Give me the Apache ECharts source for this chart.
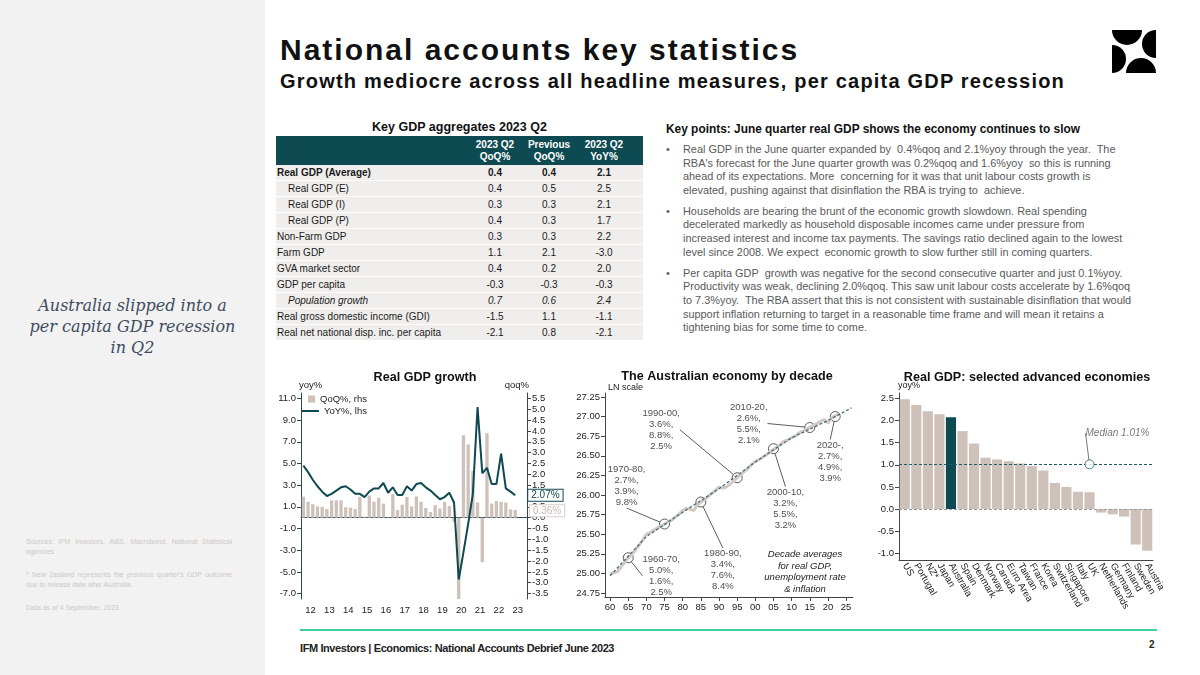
<!DOCTYPE html>
<html>
<head>
<meta charset="utf-8">
<script src="https://cdn.jsdelivr.net/npm/echarts/dist/echarts.min.js"></script>
<style>
    body { margin: 0; width: 1200px; height: 675px; position: relative; background: #fff; font-family: 'Liberation Sans', Arial, sans-serif; overflow: hidden; }
    .abs { position: absolute; }
    #side { left: 0; top: 0; width: 265px; height: 675px; background: #f2f2f2; }
    #sideText { left: 0; top: 295px; width: 265px; text-align: center; font: italic 16px 'DejaVu Serif', serif; line-height: 21px; color: #3e4c61; }
    #sources { left: 26px; top: 537px; width: 206px; font-size: 7px; line-height: 9.5px; color: #cfc8c2; }
    #sources p { margin: 0 0 14px 0; text-align: justify; }
    #title { left: 280px; top: 33px; font: bold 30px 'Liberation Sans', Arial; line-height: 34px; letter-spacing: 2px; color: #111; white-space: nowrap; }
    #subtitle { left: 280px; top: 70px; font: bold 20px 'Liberation Sans', Arial; line-height: 23px; letter-spacing: 1.2px; color: #111; white-space: nowrap; }
    #logo { left: 1112px; top: 30px; }
    #tblTitle { left: 276px; top: 120px; width: 367px; text-align: center; font-weight: bold; font-size: 12.5px; color: #111; }
    #gdpTable { left: 276px; top: 136px; width: 367px; border-collapse: collapse; font-size: 10px; color: #1a1a1a; table-layout: fixed; }
    #gdpTable th { background: #0d4a52; color: #fff; font-weight: bold; height: 29px; line-height: 11.5px; padding: 0; text-align: center; }
    #gdpTable td { background: #f0eeec; height: 15px; border-bottom: 1px solid #fff; padding: 0; text-align: center; white-space: nowrap; }
    #gdpTable td.lab { text-align: left; padding-left: 1px; }
    #gdpTable td.last, #gdpTable th.last { padding-right: 9px; }
    #gdpTable tr.bold td { font-weight: bold; }
    #gdpTable tr.ind td.lab { padding-left: 12px; }
    #gdpTable tr.ital td { font-style: italic; }
    #keyHead { left: 666px; top: 122px; font-weight: bold; font-size: 11.9px; color: #111; white-space: nowrap; }
    #keyPoints { left: 666px; top: 143px; font-size: 10.9px; line-height: 13.6px; color: #595959; white-space: nowrap; }
    #keyPoints p { margin: 0 0 7.5px 0; padding-left: 17px; position: relative; }
    #keyPoints p::before { content: '\2022'; position: absolute; left: 0; }
    #footLine { left: 300px; top: 629px; width: 857px; height: 2px; background: #3ecf9a; }
    #footText { left: 300px; top: 642px; font-weight: bold; font-size: 11px; letter-spacing: -0.4px; color: #222; white-space: nowrap; }
    #pageNo { left: 1149px; top: 639px; font-weight: bold; font-size: 10px; color: #222; }
    #charts { left: 0; top: 0; width: 1200px; height: 675px; }
</style>
</head>
<body>
<div id="side" class="abs"></div>
<div id="sideText" class="abs">Australia slipped into a<br>per capita GDP recession<br>in Q2</div>
<div id="sources" class="abs">
    <p>Sources: IFM Investors, ABS, Macrobond, National Statistical agencies</p>
    <p>* New Zealand represents the previous quarter's GDP outcome due to release date after Australia.</p>
    <p>Data as at 4 September, 2023</p>
</div>

<div id="title" class="abs">National accounts key statistics</div>
<div id="subtitle" class="abs">Growth mediocre across all headline measures, per capita GDP recession</div>
<svg id="logo" class="abs" width="44" height="43" viewBox="0 0 44 43">
    <path d="M0,0 H30 A15,15 0 0 1 0,0 Z" fill="#000"/>
    <path d="M0,15 A14,14 0 0 1 0,43 Z" fill="#000"/>
    <path d="M14,43 A15,15 0 0 1 44,43 Z" fill="#000"/>
    <path d="M44,0 V28 A14,14 0 0 1 44,0 Z" fill="#000"/>
</svg>

<div id="tblTitle" class="abs">Key GDP aggregates 2023 Q2</div>
<table id="gdpTable" class="abs">
    <colgroup><col style="width:190px"><col style="width:58px"><col style="width:50px"><col style="width:69px"></colgroup>
    <thead><tr><th></th><th>2023 Q2<br>QoQ%</th><th>Previous<br>QoQ%</th><th class="last">2023 Q2<br>YoY%</th></tr></thead>
    <tbody id="tblBody"></tbody>
</table>

<div id="keyHead" class="abs">Key points: June quarter real GDP shows the economy continues to slow</div>
<div id="keyPoints" class="abs">
    <p>Real GDP in the June quarter expanded by&nbsp; 0.4%qoq and 2.1%yoy through the year.&nbsp; The<br>RBA's forecast for the June quarter growth was 0.2%qoq and 1.6%yoy&nbsp; so this is running<br>ahead of its expectations. More&nbsp; concerning for it was that unit labour costs growth is<br>elevated, pushing against that disinflation the RBA is trying to&nbsp; achieve.</p>
    <p>Households are bearing the brunt of the economic growth slowdown. Real spending<br>decelerated markedly as household disposable incomes came under pressure from<br>increased interest and income tax payments. The savings ratio declined again to the lowest<br>level since 2008. We expect&nbsp; economic growth to slow further still in coming quarters.</p>
    <p>Per capita GDP&nbsp; growth was negative for the second consecutive quarter and just 0.1%yoy.<br>Productivity was weak, declining 2.0%qoq. This saw unit labour costs accelerate by 1.6%qoq<br>to 7.3%yoy.&nbsp; The RBA assert that this is not consistent with sustainable disinflation that would<br>support inflation returning to target in a reasonable time frame and will mean it retains a<br>tightening bias for some time to come.</p>
</div>

<div id="footLine" class="abs"></div>
<div id="footText" class="abs">IFM Investors | Economics: National Accounts Debrief June 2023</div>
<div id="pageNo" class="abs">2</div>

<div id="charts" class="abs"></div>

<script>
// table
const tableRows = [
    ['Real GDP (Average)', '0.4', '0.4', '2.1'],
    ['Real GDP (E)', '0.4', '0.5', '2.5'],
    ['Real GDP (I)', '0.3', '0.3', '2.1'],
    ['Real GDP (P)', '0.4', '0.3', '1.7'],
    ['Non-Farm GDP', '0.3', '0.3', '2.2'],
    ['Farm GDP', '1.1', '2.1', '-3.0'],
    ['GVA market sector', '0.4', '0.2', '2.0'],
    ['GDP per capita', '-0.3', '-0.3', '-0.3'],
    ['Population growth', '0.7', '0.6', '2.4'],
    ['Real gross domestic income (GDI)', '-1.5', '1.1', '-1.1'],
    ['Real net national disp. inc. per capita', '-2.1', '0.8', '-2.1']
];
const rowClass = ['bold', 'ind', 'ind', 'ind', '', '', '', '', 'ind ital', '', ''];

// real GDP growth, quarterly 2012Q1 - 2023Q2
const yearLabels = ['12', '13', '14', '15', '16', '17', '18', '19', '20', '21', '22', '23'];
const qoqGrowth = [0.97, 0.73, 0.62, 0.52, 0.5, 0.4, 0.8, 0.8, 0.8, 0.48, 0.46, 0.4,
    0.96, 0.05, 1.02, 0.74, 0.92, 0.65, 0.02, 1.1, 0.35, 0.6, 0.95, 0.52,
    0.98, 0.73, 0.45, 0.26, 0.58, 0.42, 0.73, 0.54, -0.2, -6.8, 3.8, 3.38,
    2.15, 0.7, -2.05, 3.9, 0.65, 0.76, 0.73, 0.7, 0.38, 0.36];
const yoyGrowth = [4.8, 4.2, 3.5, 2.9, 2.4, 2.0, 2.2, 2.5, 2.8, 2.9, 2.6, 2.2,
    2.2, 1.9, 2.4, 2.7, 2.7, 3.2, 2.3, 2.8, 2.1, 2.1, 2.9, 2.5,
    3.1, 3.2, 2.8, 2.5, 2.1, 1.7, 1.9, 2.3, 1.4, -5.7, -3.2, -0.6,
    2.2, 10.2, 4.1, 4.6, 3.1, 3.1, 5.9, 2.7, 2.4, 2.07];
const yoyTicks = [-7, -5, -3, -1, 1, 3, 5, 7, 9, 11];
const qoqTicks = [-3.5, -3, -2.5, -2, -1.5, -1, -0.5, 0, 0.5, 1, 1.5, 2, 2.5, 3, 3.5, 4, 4.5, 5, 5.5];

// economy by decade, ln real GDP
const gdpLn = [24.99, 25.01, 25.02, 25.08, 25.14, 25.20, 25.24, 25.30, 25.36, 25.43,
    25.50, 25.52, 25.55, 25.58, 25.60, 25.63, 25.66, 25.68, 25.72, 25.76,
    25.80, 25.83, 25.82, 25.80, 25.87, 25.91, 25.94, 25.98, 26.02, 26.06,
    26.10, 26.09, 26.10, 26.14, 26.18, 26.22, 26.26, 26.30, 26.34, 26.39,
    26.43, 26.45, 26.48, 26.51, 26.55, 26.58, 26.61, 26.65, 26.69, 26.70,
    26.73, 26.75, 26.79, 26.81, 26.84, 26.86, 26.89, 26.91, 26.94, 26.96,
    26.92, 26.98, 27.01, 27.03];
const trendYears = [1960, 1970, 1980, 1990, 2000, 2010, 2020, 2026.5];
const trendLn = [24.97, 25.47, 25.78, 26.08, 26.42, 26.73, 26.95, 27.11];
const decadeMid = [1965, 1975, 1985, 1995, 2005, 2015, 2022];
const decadeLn = [25.20, 25.63, 25.91, 26.22, 26.59, 26.86, 27.00];
const decadeText = ['1960-70,\n5.0%,\n1.6%,\n2.5%', '1970-80,\n2.7%,\n3.9%,\n9.8%', '1980-90,\n3.4%,\n7.6%,\n8.4%',
    '1990-00,\n3.6%,\n8.8%,\n2.5%', '2000-10,\n3.2%,\n5.5%,\n3.2%', '2010-20,\n2.6%,\n5.5%,\n2.1%', '2020-,\n2.7%,\n4.9%,\n3.9%'];
const lnTicks = [24.75, 25.00, 25.25, 25.50, 25.75, 26.00, 26.25, 26.50, 26.75, 27.00, 27.25];
const yearTicks = [1960, 1965, 1970, 1975, 1980, 1985, 1990, 1995, 2000, 2005, 2010, 2015, 2020, 2025];

// selected advanced economies
const countries = ['US', 'Portugal', 'NZ*', 'Japan', 'Australia', 'Spain', 'Denmark', 'Norway', 'Canada', 'Euro Area', 'Taiwan',
    'France', 'Korea', 'Switzerland', 'Singapore', 'Italy', 'UK', 'Netherlands', 'Germany', 'Finland', 'Sweden', 'Austria'];
const countryYoy = [2.48, 2.35, 2.21, 2.14, 2.07, 1.76, 1.48, 1.16, 1.12, 1.08, 1.03,
    0.97, 0.87, 0.59, 0.50, 0.39, 0.38, -0.08, -0.12, -0.17, -0.80, -0.94];
const countryTicks = [-1, -0.5, 0, 0.5, 1, 1.5, 2, 2.5];
const medianYoy = 1.01;
const medianAt = 'UK';

const body = document.getElementById('tblBody');
tableRows.forEach((r, i) => {
    const tr = document.createElement('tr');
    tr.className = rowClass[i];
    tr.innerHTML = `<td class="lab">${r[0]}</td><td>${r[1]}</td><td>${r[2]}</td><td class="last">${r[3]}</td>`;
    body.appendChild(tr);
});

const teal = '#0d4a52';
const beige = '#cdc1b9';
const ink = '#222';
const quarters = [];
yearLabels.forEach(y => ['Q1', 'Q2', 'Q3', 'Q4'].forEach(q => quarters.push(y + q)));
const decadeOffsets = [[33, 18], [-38, -38], [22, 68], [-76, -48], [12, 60], [-61, -4], [-5, 45]];
const tickFont = { fontSize: 9.5, color: ink, fontFamily: 'Liberation Sans' };
const chartTitle = { fontSize: 12.6, fontWeight: 'bold', color: '#111' };

const lastQoq = qoqGrowth.length - 1;

const option = {
    animation: false,
    textStyle: { fontFamily: 'Liberation Sans' },
    title: [
        { text: 'Real GDP growth', left: 420, top: 366, textAlign: 'center', textStyle: chartTitle },
        { text: 'The Australian economy by decade', left: 722, top: 365, textAlign: 'center', textStyle: chartTitle },
        { text: 'Real GDP: selected advanced economies', left: 1022, top: 366, textAlign: 'center', textStyle: chartTitle }
    ],
    legend: [
        { data: ['QoQ%, rhs'], left: 308, top: 394, padding: 0, itemWidth: 7, itemHeight: 7, icon: 'rect', textStyle: { fontSize: 9.5, color: ink } },
        { data: ['YoY%, lhs'], left: 302, top: 406, padding: 0, itemWidth: 17, itemHeight: 2, icon: 'rect', textStyle: { fontSize: 9.5, color: ink } }
    ],
    grid: [
        { left: 301, top: 393, width: 226, height: 206 },
        { left: 605, top: 393, width: 248, height: 204 },
        { left: 899, top: 393, width: 254, height: 167 }
    ],
    xAxis: [
        {
            type: 'category', gridIndex: 0, data: quarters,
            axisLine: { lineStyle: { color: '#2d4856' } },
            axisTick: { interval: (i) => i % 4 === 0, length: 4, lineStyle: { color: '#2d4856' } },
            axisLabel: { interval: (i) => i % 4 === 1, formatter: v => v.slice(0, 2), padding: [0, 0, 0, 5], margin: 6, ...tickFont }
        },
        {
            type: 'value', gridIndex: 1, min: 1958.6, max: 2026.9,
            splitLine: { show: false },
            axisLine: { onZero: false, lineStyle: { color: '#444' } },
            axisTick: { show: true, customValues: yearTicks, length: 4, lineStyle: { color: '#444' } },
            axisLabel: { customValues: yearTicks, formatter: v => String(v % 100).padStart(2, '0'), margin: 5, ...tickFont }
        },
        {
            type: 'category', gridIndex: 2, data: countries,
            axisLine: { onZero: false, lineStyle: { color: '#444' } },
            axisTick: { length: 4, lineStyle: { color: '#444' } },
            axisLabel: { interval: 0, rotate: -60, margin: 4, ...tickFont }
        }
    ],
    yAxis: [
        {
            type: 'value', gridIndex: 0, position: 'left', min: -7.5, max: 11.5,
            name: 'yoy%', nameLocation: 'end', nameGap: 3, nameTextStyle: { align: 'left', fontSize: 9.5, color: ink, padding: [0, 0, 0, -2] },
            splitLine: { show: false },
            axisLine: { show: true, lineStyle: { color: '#2d4856' } },
            axisTick: { show: true, customValues: yoyTicks, length: 4, lineStyle: { color: '#2d4856' } },
            axisLabel: { customValues: yoyTicks, formatter: v => v.toFixed(1), margin: 5, ...tickFont }
        },
        {
            type: 'value', gridIndex: 0, position: 'right', min: -3.75, max: 5.75,
            name: 'qoq%', nameLocation: 'end', nameGap: 3, nameTextStyle: { align: 'right', fontSize: 9.5, color: ink, padding: [0, -2, 0, 0] },
            splitLine: { show: false },
            axisLine: { show: true, lineStyle: { color: '#2d4856' } },
            axisTick: { show: true, customValues: qoqTicks, length: 4, lineStyle: { color: '#2d4856' } },
            axisLabel: { customValues: qoqTicks, formatter: v => v.toFixed(1), margin: 5, ...tickFont }
        },
        {
            type: 'value', gridIndex: 1, min: 24.7, max: 27.3,
            name: 'LN scale', nameLocation: 'end', nameGap: 1, nameTextStyle: { align: 'left', fontSize: 9, color: ink, padding: [0, 0, 0, 3] },
            splitLine: { show: false },
            axisLine: { show: true, lineStyle: { color: '#444' } },
            axisTick: { show: true, customValues: lnTicks, length: 4, lineStyle: { color: '#444' } },
            axisLabel: { customValues: lnTicks, formatter: v => v.toFixed(2), margin: 5, ...tickFont }
        },
        {
            type: 'value', gridIndex: 2, min: -1.15, max: 2.62,
            name: 'yoy%', nameLocation: 'end', nameGap: 3, nameTextStyle: { align: 'left', fontSize: 9, color: ink, padding: [0, 0, 0, -1] },
            splitLine: { show: false },
            axisLine: { show: true, lineStyle: { color: '#444' } },
            axisTick: { show: true, customValues: countryTicks, length: 4, lineStyle: { color: '#444' } },
            axisLabel: { customValues: countryTicks, formatter: v => v.toFixed(1), margin: 5, ...tickFont }
        }
    ],
    series: [
        {
            name: 'QoQ%, rhs', type: 'bar', xAxisIndex: 0, yAxisIndex: 1,
            barCategoryGap: '30%', itemStyle: { color: beige },
            data: qoqGrowth.map((v, i) => i === lastQoq ? {
                value: v,
                label: {
                    show: true, position: 'right', distance: 13, formatter: p => p.value.toFixed(2) + '%',
                    fontSize: 10, color: '#c4b8b0', backgroundColor: '#fff', borderColor: '#d8cec7', borderWidth: 1, padding: [1, 3, 0, 3], offset: [0, -3]
                }
            } : v)
        },
        {
            name: 'YoY%, lhs', type: 'line', xAxisIndex: 0, yAxisIndex: 0,
            showSymbol: false, lineStyle: { color: teal, width: 2 }, itemStyle: { color: teal },
            data: yoyGrowth,
            endLabel: {
                show: true, distance: 13, formatter: p => p.value.toFixed(2) + '%',
                fontSize: 10, color: teal, backgroundColor: '#fff', borderColor: teal, borderWidth: 1, padding: [1, 3, 0, 3]
            }
        },
        {
            type: 'line', xAxisIndex: 1, yAxisIndex: 2, showSymbol: false,
            lineStyle: { color: '#d3c9c2', width: 3 },
            data: gdpLn.map((v, i) => [1960 + i, v])
        },
        {
            type: 'line', xAxisIndex: 1, yAxisIndex: 2, showSymbol: false,
            lineStyle: { color: '#3f6f7f', width: 1.3, type: [3, 2] },
            data: trendYears.map((y, i) => [y, trendLn[i]])
        },
        {
            type: 'scatter', xAxisIndex: 1, yAxisIndex: 2, symbolSize: 10,
            itemStyle: { color: 'rgba(255,255,255,0)', borderColor: '#333', borderWidth: 1 },
            data: decadeMid.map((y, i) => [y, decadeLn[i]]),
            label: { show: true, position: 'inside', formatter: p => decadeText[p.dataIndex], fontSize: 9.5, lineHeight: 11, color: ink, align: 'center' },
            labelLayout: p => ({ dx: decadeOffsets[p.dataIndex][0], dy: decadeOffsets[p.dataIndex][1] }),
            labelLine: { show: true, lineStyle: { color: '#333', width: 0.8 } }
        },
        {
            type: 'bar', xAxisIndex: 2, yAxisIndex: 3, barCategoryGap: '12%',
            data: countryYoy.map((v, i) => countries[i] === 'Australia' ? { value: v, itemStyle: { color: teal } } : v),
            itemStyle: { color: beige },
            markLine: {
                silent: true, symbol: ['none', 'none'], label: { show: false },
                data: [
                    { yAxis: 0, lineStyle: { color: '#9a9a9a', type: [3, 2], width: 1 } },
                    { yAxis: medianYoy, lineStyle: { color: '#1d5a68', type: [3, 2], width: 1 } }
                ]
            }
        },
        {
            type: 'scatter', xAxisIndex: 2, yAxisIndex: 3, symbolSize: 9, z: 5,
            itemStyle: { color: '#fff', borderColor: '#1d5a68', borderWidth: 1 },
            data: [[medianAt, medianYoy]],
            label: { show: true, position: 'inside', formatter: 'Median ' + medianYoy.toFixed(2) + '%', fontSize: 10, fontStyle: 'italic', color: '#555' },
            labelLayout: { dx: 28, dy: -31 },
            labelLine: { show: true, lineStyle: { color: '#555', width: 0.8 } }
        }
    ],
    graphic: [
        {
            type: 'text', x: 805, y: 549,
            style: { text: 'Decade averages\nfor real GDP,\nunemployment rate\n& inflation', fill: ink, font: 'italic 9.5px Liberation Sans', textAlign: 'center', lineHeight: 11.5 }
        }
    ]
};

const chart = echarts.init(document.getElementById('charts'));
chart.setOption(option);
</script>
</body>
</html>
